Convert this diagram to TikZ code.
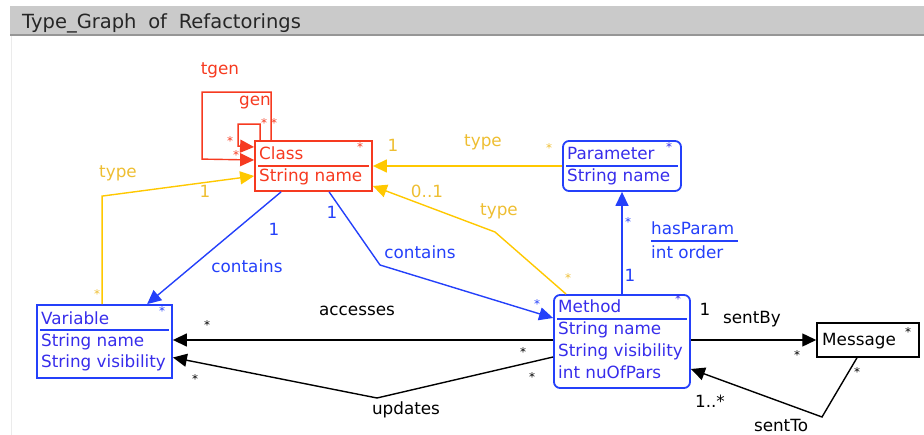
\documentclass[tikz,border=0pt]{standalone}
\usepackage{fontspec}
\setmainfont{DejaVu Sans}
\usetikzlibrary{arrows.meta}
\definecolor{clsred}{RGB}{246,58,32}
\definecolor{umlblue}{RGB}{36,64,250}
\definecolor{txtblue}{RGB}{55,45,235}
\definecolor{typeyel}{RGB}{255,200,0}
\definecolor{labyel}{RGB}{238,190,50}
\definecolor{bargray}{RGB}{202,202,202}
\definecolor{bardark}{RGB}{150,150,150}
\begin{document}
\begin{tikzpicture}[x=1pt,y=-1pt,
  box/.style={draw,line width=1.8pt,inner sep=0pt},
  attr/.style={anchor=base west,inner sep=0pt,font=\fontsize{16.8}{20}\selectfont},
  lab/.style={inner sep=0pt,font=\fontsize{16.8}{20}\selectfont},
  mult/.style={inner sep=0pt,font=\fontsize{12}{14}\selectfont},
  conn/.style={line width=1.4pt,-{Triangle[length=14pt,width=13pt]}},
  sep/.style={line width=1.5pt}]
\useasboundingbox (0,0) rectangle (924,435);
% window title bar
\fill[bargray] (10,6) rectangle (924,34);
\fill[bardark] (10,34) rectangle (924,36);
\draw[black!8,line width=1pt] (11,36) -- (11,435);
\node[anchor=base west,inner sep=0pt,text=black!85,font=\fontsize{19.5}{22}\selectfont] (title) at (22,29)
  {Type\_Graph\hspace{0.6em}of\hspace{0.6em}Refactorings};

% classes
\node[box,draw=clsred,minimum width=117pt,minimum height=50pt] (cls) at (313.5,166) {};
\node[box,draw=umlblue,rounded corners=6pt,minimum width=118pt,minimum height=50pt] (prm) at (622,166) {};
\node[box,draw=umlblue,minimum width=135pt,minimum height=73pt] (var) at (104.5,341.5) {};
\node[box,draw=umlblue,rounded corners=6pt,minimum width=136pt,minimum height=93pt] (mth) at (622,341.5) {};
\node[box,draw=black,line width=1.5pt,minimum width=102pt,minimum height=34pt] (msg) at (868,340) {};

% compartment separators
\draw[sep,clsred] ([xshift=4pt]cls.west) -- ([xshift=-4pt]cls.east);
\draw[sep,umlblue] ([xshift=4pt]prm.west) -- ([xshift=-4pt]prm.east);
\draw[sep,umlblue] ([xshift=4pt,yshift=11.5pt]var.west) -- ([xshift=-4pt,yshift=11.5pt]var.east);
\draw[sep,umlblue] ([xshift=4pt,yshift=22.5pt]mth.west) -- ([xshift=-4pt,yshift=22.5pt]mth.east);

% class names and attributes
\node[attr,text=clsred] (clsN) at (259,160) {Class};
\node[attr,text=clsred] (clsA) at (259,182) {String name};
\node[attr,text=txtblue] (prmN) at (567,160) {Parameter};
\node[attr,text=txtblue] (prmA) at (567,182) {String name};
\node[attr,text=txtblue] (varN) at (41,325) {Variable};
\node[attr,text=txtblue] (varA) at (41,347) {String name};
\node[attr,text=txtblue] (varB) at (41,368) {String visibility};
\node[attr,text=txtblue] (mthN) at (558,313) {Method};
\node[attr,text=txtblue] (mthA) at (558,335) {String name};
\node[attr,text=txtblue] (mthB) at (558,357) {String visibility};
\node[attr,text=txtblue] (mthC) at (558,379) {int nuOfPars};
\node[attr,text=black] (msgN) at (822,346) {Message};
\node[mult,text=clsred] (clsS) at (360,147) {*};
\node[mult,text=txtblue] (prmS) at (669,147) {*};
\node[mult,text=txtblue] (mthS) at (678,299) {*};
\node[mult,text=black] (msgS) at (908,332) {*};

% generalisation loops on Class
\draw[conn,clsred] ([xshift=17pt]cls.north west) -- ++(0,-48) -- ++(-69,0) -- ++(0,67) -- ([yshift=6pt]cls.west);
\draw[conn,clsred] ([xshift=6pt]cls.north west) -- ++(0,-16) -- ++(-22,0) -- ++(0,22) -- ([yshift=19pt]cls.west);
\node[lab,text=clsred] (tgen) at (220,70) {tgen};
\node[lab,text=clsred] (gen) at (255,103) {gen};
\node[mult,text=clsred] (g1) at (264,123) {*};
\node[mult,text=clsred] (g2) at (274,123) {*};
\node[mult,text=clsred] (g3) at (230,141) {*};
\node[mult,text=clsred] (g4) at (236,155) {*};

% type edges
\draw[conn,typeyel] (prm.west) -- (cls.east);
\node[lab,text=labyel] (t1) at (483,142) {type};
\node[lab,text=labyel] (t1a) at (393,145) {1};
\node[mult,text=labyel] (t1b) at (549,148) {*};

\coordinate (bT) at (495,232);
\draw[conn,typeyel] ([xshift=13pt]mth.north west) -- (bT) -- ([yshift=-20pt]cls.east);
\node[lab,text=labyel] (t2) at (499,211) {type};
\node[lab,text=labyel] (t2a) at (427,191) {0..1};
\node[mult,text=labyel] (t2b) at (568,278) {*};

\draw[conn,typeyel] ([xshift=66pt]var.north west) -- ++(0,-108) -- ([yshift=-10pt]cls.west);
\node[lab,text=labyel] (t3) at (118,173) {type};
\node[lab,text=labyel] (t3a) at (205,191) {1};
\node[mult,text=labyel] (t3b) at (97,294) {*};

% containment edges
\draw[conn,umlblue] ([xshift=27pt]cls.south west) -- ([xshift=111pt]var.north west);
\node[lab,text=umlblue] (c1) at (247,266) {contains};
\node[lab,text=umlblue] (c1a) at (274,229) {1};
\node[mult,text=umlblue] (c1b) at (162,311) {*};

\coordinate (bC) at (380,265);
\draw[conn,umlblue] ([xshift=75pt]cls.south west) -- (bC) -- ([yshift=23.5pt]mth.west);
\node[lab,text=umlblue] (c2) at (420,252) {contains};
\node[lab,text=umlblue] (c2a) at (332,212) {1};
\node[mult,text=umlblue] (c2b) at (537,304) {*};

% parameters
\draw[conn,umlblue] (mth.north) -- (prm.south);
\node[mult,text=umlblue] (p1) at (628,222) {*};
\node[lab,text=umlblue] (p2) at (630,275) {1};
\node[attr,text=umlblue] (hp) at (651,235) {hasParam};
\draw[line width=1.2pt,umlblue] (651,241) -- (738,241);
\node[attr,text=umlblue] (io) at (651,259) {int order};

% variable access
\draw[conn,black] ([yshift=1.5pt]mth.west) -- ([yshift=1.5pt]var.east);
\node[lab] (acc) at (357,311) {accesses};
\node[mult] (a1) at (207,325) {*};
\node[mult] (a2) at (523,352) {*};

\coordinate (bU) at (377,398);
\draw[conn,black] ([yshift=-15.5pt]mth.west) -- (bU) -- ([yshift=-16pt]var.east);
\node[lab] (upd) at (406,410) {updates};
\node[mult] (u1) at (195,379) {*};
\node[mult] (u2) at (532,377) {*};

% messages
\draw[conn,black] ([yshift=1.5pt]mth.east) -- (msg.west);
\node[lab] (sb) at (752,319) {sentBy};
\node[lab] (sb1) at (705,309) {1};
\node[mult] (sb2) at (797,355) {*};

\coordinate (bS) at (822,417);
\draw[conn,black] ([xshift=-11pt]msg.south) -- (bS) -- ([yshift=-27.5pt]mth.east);
\node[lab] (st) at (781,425) {sentTo};
\node[lab] (st1) at (710,401) {1..*};
\node[mult] (st2) at (857,372) {*};
\end{tikzpicture}
\end{document}
